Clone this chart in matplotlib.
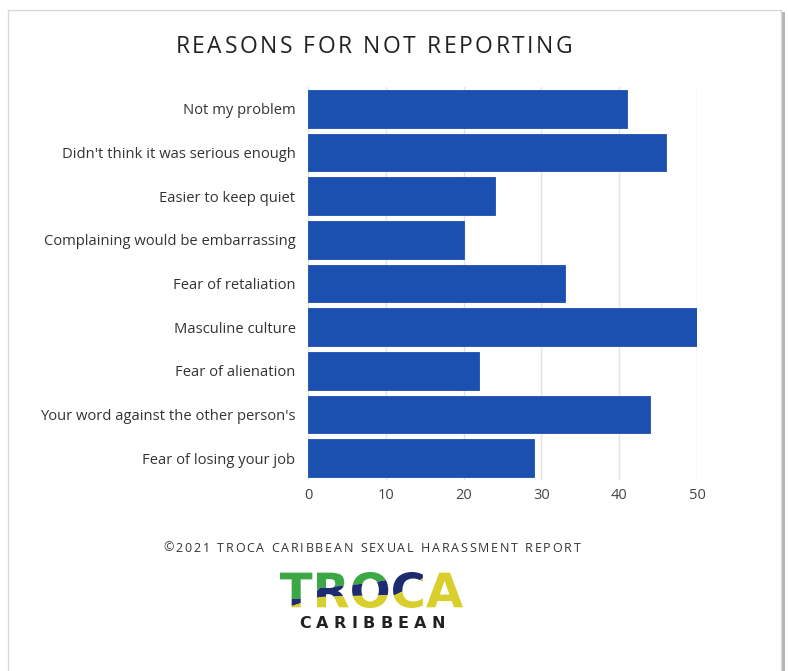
import matplotlib.pyplot as plt
from matplotlib.patches import Rectangle, Polygon, PathPatch
from matplotlib.font_manager import FontProperties, findfont
from matplotlib.ft2font import FT2Font
from matplotlib.textpath import TextPath
from matplotlib.transforms import Affine2D

# Survey responses: why harassment was not reported
reasons = [
    "Not my problem",
    "Didn't think it was serious enough",
    "Easier to keep quiet",
    "Complaining would be embarrassing",
    "Fear of retaliation",
    "Masculine culture",
    "Fear of alienation",
    "Your word against the other person's",
    "Fear of losing your job",
]
counts = [41, 46, 24, 20, 33, 50, 22, 44, 29]
x_ticks = [0, 10, 20, 30, 40, 50]

W, H = 788, 671
fig = plt.figure(figsize=(W / 100, H / 100), dpi=100)
fig.patch.set_facecolor("white")


def fx(px):
    return px / W


def fy(py):
    return 1 - py / H


def spaced_text(cx, cy, s, size, width, family="Open Sans", weight="normal",
                color="#222222"):
    """Draw s centred at pixel (cx, cy), letter-spaced to span `width` px."""
    prop = FontProperties(family=family, weight=weight)
    font = FT2Font(findfont(prop))
    font.set_size(size, 100)
    adv = [font.load_char(ord(c)).linearHoriAdvance / 65536 for c in s]
    track = (width - sum(adv)) / (len(s) - 1)
    x = cx - width / 2
    for c, a in zip(s, adv):
        fig.text(fx(x), fy(cy), c, ha="left", va="center", fontsize=size,
                 color=color, family=family, fontweight=weight)
        x += a + track


# card with a soft shadow
fig.patches.append(Rectangle((fx(10), fy(690)), fx(775), fy(12) - fy(690),
                             transform=fig.transFigure, facecolor="#b5b5b5",
                             edgecolor="none", zorder=-3))
fig.patches.append(Rectangle((fx(8), fy(690)), fx(773), fy(10) - fy(690),
                             transform=fig.transFigure, facecolor="white",
                             edgecolor="#d8d8d8", linewidth=1, zorder=-2))

ax = fig.add_axes([fx(308), fy(480), fx(697) - fx(308), fy(87) - fy(480)])
ax.set_facecolor("none")
ypos = list(range(len(reasons)))
ax.barh(ypos, counts, height=0.87, color="#1b4fb0", edgecolor="#1b4fb0",
        linewidth=0.6, zorder=3)
ax.set_ylim(len(reasons) - 0.5, -0.5)
ax.set_xlim(0, 50)
ax.set_yticks(ypos)
ax.set_yticklabels(reasons, fontsize=10.6, color="#333333", family="Open Sans")
ax.set_xticks(x_ticks)
ax.set_xticklabels([str(t) for t in x_ticks], fontsize=10.5, color="#444444",
                   family="Open Sans")
ax.tick_params(axis="y", length=0, pad=9)
ax.tick_params(axis="x", length=0, pad=6)
for s in ax.spines.values():
    s.set_visible(False)
ax.grid(axis="x", color="#e4e4e4", linewidth=1, zorder=0)

spaced_text(374, 47, "REASONS FOR NOT REPORTING", 16.5, 397, color="#222222")
spaced_text(372, 548, "\u00a92021 TROCA CARIBBEAN SEXUAL HARASSMENT REPORT",
            9, 417, color="#333333")

# logo: the word as a path, filled in three wavy colour bands
logo_prop = FontProperties(family="DejaVu Sans", weight="bold")
word = TextPath((0, 0), "TROCA", size=50, prop=logo_prop)
ext = word.get_extents()
to_fig = (Affine2D().translate(-ext.x0, -ext.y0)
          .scale(183 / ext.width, 36 / ext.height)
          .translate(280, H - 608).scale(1 / W, 1 / H) + fig.transFigure)
green_edge = [(270, 600), (310, 598), (320, 588), (350, 585), (370, 583),
              (387, 580), (392, 572), (400, 555)]
yellow_edge = [(270, 613), (320, 597), (350, 596), (395, 595), (410, 588),
               (423, 578), (430, 568), (440, 550)]
bands = [
    ("#3ca845", [(270, 540), (400, 540)] + green_edge[::-1]),
    ("#1c2c6e", green_edge + [(440, 540)] + yellow_edge[::-1]),
    ("#d8cf2c", yellow_edge + [(480, 540), (480, 640), (270, 640)]),
]
for color, pts in bands:
    clip = Polygon([(fx(a), fy(b)) for a, b in pts], closed=True,
                   transform=fig.transFigure, facecolor="none", edgecolor="none")
    piece = PathPatch(word, transform=to_fig, facecolor=color, edgecolor="none")
    fig.patches.append(piece)
    piece.set_clip_path(clip)

spaced_text(372, 623, "CARIBBEAN", 11.5, 146, family="DejaVu Sans",
            weight="bold", color="#222222")

fig.savefig("out.png", dpi=100)
